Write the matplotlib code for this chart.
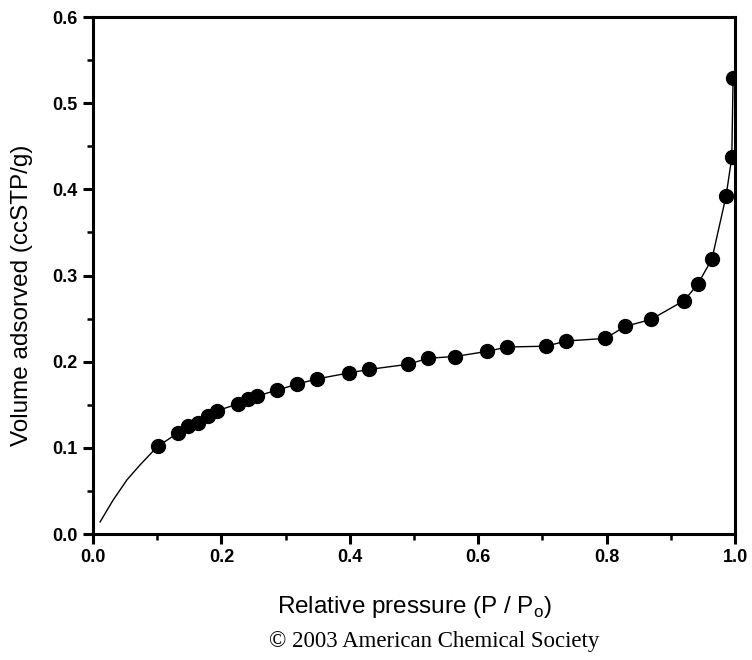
import matplotlib
matplotlib.use('Agg')
import matplotlib.pyplot as plt
from matplotlib.ticker import MultipleLocator

# measured isotherm points (relative pressure, volume adsorbed)
p_rel = [0.101, 0.132, 0.148, 0.164, 0.179, 0.193, 0.226, 0.241, 0.255, 0.287,
         0.318, 0.349, 0.399, 0.430, 0.491, 0.522, 0.564, 0.614, 0.645, 0.706,
         0.737, 0.798, 0.829, 0.869, 0.921, 0.942, 0.964, 0.986, 0.995, 0.997]
vol = [0.102, 0.117, 0.125, 0.129, 0.137, 0.143, 0.151, 0.157, 0.160, 0.167,
       0.174, 0.180, 0.187, 0.191, 0.197, 0.204, 0.206, 0.212, 0.217, 0.218,
       0.224, 0.227, 0.241, 0.249, 0.271, 0.290, 0.319, 0.392, 0.437, 0.529]

# fitted line below the first point
fit_x = [0.011, 0.031, 0.053, 0.073, 0.101]
fit_y = [0.014, 0.039, 0.063, 0.080, 0.102]

fig = plt.figure(figsize=(7.52, 6.6), dpi=100)
ax = fig.add_axes([0.1237, 0.1909, 0.8537, 0.7833])

ax.plot(fit_x + p_rel[1:], fit_y + vol[1:], color='black', lw=1.0)
ax.plot(p_rel, vol, 'o', color='black', markersize=10)

ax.set_xlim(0, 1.0)
ax.set_ylim(0, 0.6)
ax.xaxis.set_major_locator(MultipleLocator(0.2))
ax.xaxis.set_minor_locator(MultipleLocator(0.1))
ax.yaxis.set_major_locator(MultipleLocator(0.1))
ax.yaxis.set_minor_locator(MultipleLocator(0.05))
ax.xaxis.set_major_formatter(plt.FormatStrFormatter('%.1f'))
ax.yaxis.set_major_formatter(plt.FormatStrFormatter('%.1f'))

for s in ax.spines.values():
    s.set_linewidth(2.2)
ax.tick_params(which='major', direction='out', length=7, width=2.2,
               labelsize=13, pad=4)
ax.tick_params(which='minor', direction='out', length=4, width=1.8)
for lab in ax.get_xticklabels() + ax.get_yticklabels():
    lab.set_family('Liberation Sans')
    lab.set_fontweight('bold')

ax.set_xlabel('Relative pressure (P / P$_\\mathregular{o}$)', family='Liberation Sans',
              fontsize=17.5, labelpad=20)
ax.set_ylabel('Volume adsorved (ccSTP/g)', family='Liberation Sans',
              fontsize=17.5, va='center')
ax.yaxis.set_label_coords(-0.111, 0.462)

fig.text(0.577, 0.020, '\u00a9 2003 American Chemical Society',
         family='Liberation Serif', fontsize=16.5, ha='center')

fig.savefig('out.png', dpi=100)
